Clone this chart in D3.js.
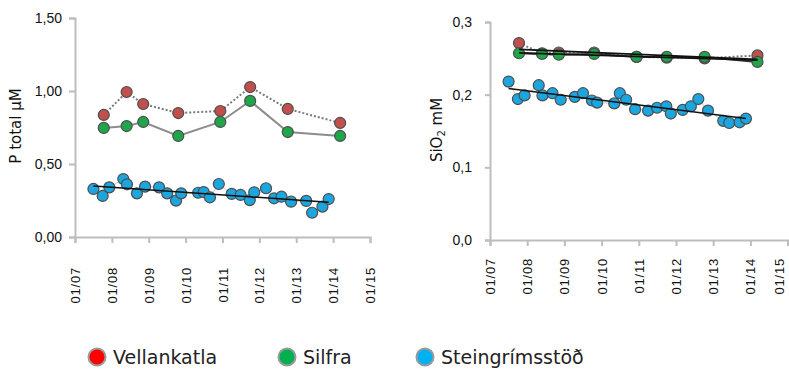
<!DOCTYPE html>
<html>
<head>
<meta charset="utf-8">
<script src="https://cdn.jsdelivr.net/npm/d3@7"></script>
<style>
  body { margin: 0; background: #fff; }
  svg { display: block; font-family: 'DejaVu Sans', Verdana, sans-serif; }
</style>
</head>
<body>
<div id="chart"></div>
<script>
// sampling dates as decimal years
const stationDates = [2007.78, 2008.40, 2008.85, 2009.80, 2010.94, 2011.75, 2012.77, 2014.19];
const steinDates = [2007.50, 2007.75, 2007.93, 2008.31, 2008.41, 2008.68, 2008.90, 2009.28, 2009.50,
  2009.74, 2009.88, 2010.34, 2010.49, 2010.66, 2010.90, 2011.25, 2011.49, 2011.74, 2011.86,
  2012.18, 2012.40, 2012.60, 2012.86, 2013.27, 2013.43, 2013.71, 2013.88];

// P total (µM)
const pVellankatla = [0.836, 0.993, 0.911, 0.849, 0.863, 1.027, 0.877, 0.781];
const pSilfra = [0.747, 0.760, 0.788, 0.692, 0.788, 0.932, 0.719, 0.692];
const pStein = [0.329, 0.281, 0.340, 0.397, 0.361, 0.299, 0.345, 0.340, 0.299, 0.249, 0.299,
  0.303, 0.308, 0.272, 0.363, 0.295, 0.288, 0.253, 0.306, 0.334, 0.265, 0.276, 0.242, 0.247,
  0.166, 0.208, 0.260];

// SiO2 (mM)
const siVellankatla = [0.271, 0.257, 0.258, 0.258, 0.252, 0.251, 0.250, 0.254];
const siSilfra = [0.257, 0.256, 0.255, 0.256, 0.252, 0.252, 0.252, 0.245];
const siStein = [0.218, 0.194, 0.199, 0.213, 0.199, 0.202, 0.193, 0.197, 0.202, 0.192, 0.189,
  0.188, 0.202, 0.193, 0.180, 0.178, 0.182, 0.184, 0.174, 0.179, 0.184, 0.194, 0.178, 0.164,
  0.161, 0.162, 0.167];

const yearTicks = [2007, 2008, 2009, 2010, 2011, 2012, 2013, 2014, 2015];
const pTicks = [0, 0.5, 1, 1.5];
const siTicks = [0, 0.1, 0.2, 0.3];

const legendNames = ['Vellankatla', 'Silfra', 'Steingrímsstöð'];
const legendColors = ['#ff0000', '#00b050', '#00b0f0'];

const COLORS = { red: '#c0504d', green: '#1fa64a', blue: '#1ba6df' };

const width = 789;
const height = 369;

const svg = d3.select('#chart').append('svg')
  .attr('width', width)
  .attr('height', height);

function fitLine(xs, ys) {
  const mx = d3.mean(xs);
  const my = d3.mean(ys);
  let num = 0, den = 0;
  xs.forEach((x, i) => { num += (x - mx) * (ys[i] - my); den += (x - mx) * (x - mx); });
  const b = num / den;
  const a = my - b * mx;
  const x0 = d3.min(xs), x1 = d3.max(xs);
  return [[x0, a + b * x0], [x1, a + b * x1]];
}

function drawPanel(p) {
  const x = d3.scaleLinear().domain([2007, 2015]).range(p.xRange);
  const y = d3.scaleLinear().domain(p.yDomain).range(p.yRange);
  const g = svg.append('g');

  // x axis
  const xa = g.append('g')
    .attr('transform', 'translate(0,' + p.yRange[0] + ')')
    .call(d3.axisBottom(x).tickValues(yearTicks).tickSizeOuter(0).tickSize(6)
      .tickFormat(d => '01/' + String(d).slice(2)));
  xa.selectAll('text')
    .attr('transform', 'rotate(-90)')
    .attr('x', -p.labelGap)
    .attr('y', d => Math.min(0, width - 10 - x(d)))  // keep the last label inside the page
    .attr('dy', '0.35em')
    .attr('text-anchor', 'end')
    .style('font-size', '13px')
    .style('letter-spacing', '0.8px')
    .attr('fill', '#111');

  // y axis
  const ya = g.append('g')
    .attr('transform', 'translate(' + p.xRange[0] + ',0)')
    .call(d3.axisLeft(y).tickValues(p.yTicks).tickSizeOuter(0).tickSize(p.tickLen).tickPadding(p.yPad)
      .tickFormat(d => d3.format(p.fmt)(d).replace('.', ',')));
  ya.selectAll('text').style('font-size', '14px').attr('fill', '#111');

  g.selectAll('.domain, .tick line').attr('stroke', '#bdbdbd').attr('stroke-width', 2);

  // axis title
  g.append('text')
    .attr('transform', 'translate(' + p.titleX + ',' + p.titleY + ') rotate(-90)')
    .attr('text-anchor', 'middle')
    .attr('dy', '0.35em')
    .style('font-size', '15px')
    .attr('fill', '#111')
    .call(p.title);

  const line = d3.line().x(d => x(d[0])).y(d => y(d[1]));
  const pairs = (xs, ys) => xs.map((d, i) => [d, ys[i]]);

  // connecting lines
  g.append('path').datum(pairs(stationDates, p.red))
    .attr('d', line).attr('fill', 'none')
    .attr('stroke', '#7a7a7a').attr('stroke-width', 2).attr('stroke-dasharray', '2,2');
  g.append('path').datum(pairs(stationDates, p.green))
    .attr('d', line).attr('fill', 'none')
    .attr('stroke', p.trendAll ? '#333' : '#8c8c8c').attr('stroke-width', 2);
  g.append('path').datum(pairs(steinDates, p.blue))
    .attr('d', line).attr('fill', 'none')
    .attr('stroke', '#c8c8c8').attr('stroke-width', 1);

  // points
  const series = [[stationDates, p.red, COLORS.red], [stationDates, p.green, COLORS.green],
    [steinDates, p.blue, COLORS.blue]];
  series.forEach(([xs, ys, c]) => {
    g.selectAll(null).data(pairs(xs, ys)).join('circle')
      .attr('cx', d => x(d[0]))
      .attr('cy', d => y(d[1]))
      .attr('r', 5.5)
      .attr('fill', c)
      .attr('stroke', '#4d4d4d')
      .attr('stroke-width', 1.2);
  });

  // trend lines
  const trends = p.trendAll ? [[stationDates, p.red], [stationDates, p.green], [steinDates, p.blue]]
    : [[steinDates, p.blue]];
  trends.forEach(([xs, ys]) => {
    g.append('path').datum(fitLine(xs, ys))
      .attr('d', line).attr('fill', 'none')
      .attr('stroke', '#111').attr('stroke-width', 1.6);
  });
}

drawPanel({
  xRange: [75, 370], yRange: [237, 18], yDomain: [0, 1.5], yTicks: pTicks, fmt: '.2f',
  tickLen: 6, yPad: 7, labelGap: 30,
  titleX: 16, titleY: 126,
  title: t => t.text('P total µM'),
  red: pVellankatla, green: pSilfra, blue: pStein, trendAll: false
});

drawPanel({
  xRange: [490, 787.6], yRange: [240, 22], yDomain: [0, 0.3], yTicks: siTicks, fmt: '.1f',
  tickLen: 5, yPad: 13, labelGap: 18,
  titleX: 437, titleY: 130,
  title: t => {
    t.append('tspan').text('SiO');
    t.append('tspan').attr('dy', '3').style('font-size', '10px').text('2');
    t.append('tspan').attr('dy', '-3').text(' mM');
  },
  red: siVellankatla, green: siSilfra, blue: siStein, trendAll: true
});

// legend
const legend = svg.append('g').attr('transform', 'translate(0,357)');
const legendX = [97, 287, 425];
legendNames.forEach((name, i) => {
  legend.append('circle')
    .attr('cx', legendX[i]).attr('cy', 0).attr('r', 8.5)
    .attr('fill', legendColors[i]).attr('stroke', '#9a9a9a').attr('stroke-width', 2);
  legend.append('text')
    .attr('x', legendX[i] + 16).attr('y', 0).attr('dy', '0.35em')
    .style('font-size', '19px').attr('fill', '#222')
    .text(name);
});
</script>
</body>
</html>
